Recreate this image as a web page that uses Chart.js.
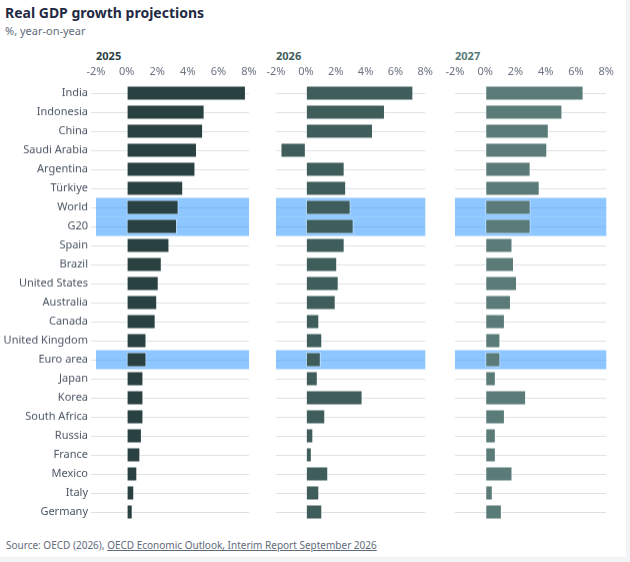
<!DOCTYPE html>
<html>
<head>
<meta charset="utf-8">
<script src="https://cdn.jsdelivr.net/npm/chart.js@4"></script>
<style>
  html, body { margin: 0; padding: 0; background: #f3f4f6; }
  body { width: 630px; height: 562px; overflow: hidden; font-family: "Noto Sans", sans-serif; }
  #card { position: absolute; left: 0; top: 0; width: 626px; height: 557px; background: #fff; }
  .title { position: absolute; left: 5px; top: 3px; font-size: 14px; font-weight: 700; color: #1f2a44; }
  .subtitle { position: absolute; left: 5px; top: 23px; font-size: 11px; color: #5f6b7a; }
  .head { position: absolute; top: 48px; font-size: 11px; font-weight: 700; }
  .panel { position: absolute; top: 50px; height: 470.5px; }
  .source { position: absolute; left: 6px; top: 538px; font-size: 10px; color: #5f6b7a; }
  .source span { text-decoration: underline; }
</style>
</head>
<body>
<div id="card">
  <div class="title">Real GDP growth projections</div>
  <div class="subtitle">%, year-on-year</div>
  <div class="head" style="left:96px;color:#2a4141">2025</div>
  <div class="head" style="left:276px;color:#3f5d5b">2026</div>
  <div class="head" style="left:455px;color:#5b7b78">2027</div>
  <div class="panel" style="left:0;width:262px"><canvas id="c2025"></canvas></div>
  <div class="panel" style="left:260px;width:178px"><canvas id="c2026"></canvas></div>
  <div class="panel" style="left:439px;width:180px"><canvas id="c2027"></canvas></div>
  <div class="source">Source: OECD (2026), <span>OECD Economic Outlook, Interim Report September 2026</span></div>
</div>
<script>
// values
const countries = ['India', 'Indonesia', 'China', 'Saudi Arabia', 'Argentina', 'Türkiye', 'World', 'G20',
  'Spain', 'Brazil', 'United States', 'Australia', 'Canada', 'United Kingdom', 'Euro area', 'Japan',
  'Korea', 'South Africa', 'Russia', 'France', 'Mexico', 'Italy', 'Germany'];
const growth2025 = [7.8, 5.1, 5.0, 4.6, 4.5, 3.7, 3.4, 3.3, 2.8, 2.3, 2.1, 2.0, 1.9, 1.3, 1.3, 1.1, 1.1, 1.1, 1.0, 0.9, 0.7, 0.5, 0.4];
const growth2026 = [7.2, 5.3, 4.5, -1.7, 2.6, 2.7, 3.0, 3.2, 2.6, 2.1, 2.2, 2.0, 0.9, 1.1, 1.0, 0.8, 3.8, 1.3, 0.5, 0.4, 1.5, 0.9, 1.1];
const growth2027 = [6.5, 5.1, 4.2, 4.1, 3.0, 3.6, 3.0, 3.0, 1.8, 1.9, 2.1, 1.7, 1.3, 1.0, 1.0, 0.7, 2.7, 1.3, 0.7, 0.7, 1.8, 0.5, 1.1];
const xMin = -2;
const xMax = 8;
const highlighted = ['World', 'G20', 'Euro area'];

const highlightBand = {
  id: 'highlightBand',
  beforeDatasetsDraw(chart) {
    const { ctx, chartArea, scales } = chart;
    const step = scales.y.getPixelForValue(1) - scales.y.getPixelForValue(0);
    ctx.save();
    ctx.fillStyle = 'rgba(30, 144, 255, 0.5)';
    highlighted.forEach(name => {
      const i = countries.indexOf(name);
      const y = scales.y.getPixelForValue(i);
      ctx.fillRect(chartArea.left, y - step / 2, chartArea.right - chartArea.left, step);
    });
    ctx.restore();
  }
};

function makePanel(id, values, color, axisWidth, padRight, showLabels) {
  new Chart(document.getElementById(id), {
    type: 'bar',
    data: {
      labels: countries,
      datasets: [{
        data: values,
        backgroundColor: color,
        borderColor: 'rgba(255,255,255,0.55)',
        borderWidth: 1,
        borderSkipped: false,
        barPercentage: 0.8,
        categoryPercentage: 1,
      }],
    },
    options: {
      indexAxis: 'y',
      responsive: true,
      maintainAspectRatio: false,
      animation: false,
      layout: { autoPadding: false, padding: { left: 0, right: padRight, top: 0, bottom: 0 } },
      plugins: { legend: { display: false }, tooltip: { enabled: false } },
      scales: {
        x: {
          position: 'top',
          min: xMin,
          max: xMax,
          grid: { display: false, drawTicks: false },
          border: { display: false },
          ticks: {
            stepSize: 2,
            padding: 5,
            color: '#6b7280',
            font: { family: 'Noto Sans', size: 11 },
            callback: v => v + '%',
          },
          afterFit: scale => { scale.height = 33.5; },
        },
        y: {
          grid: {
            offset: false,
            color: '#dde1e7',
            lineWidth: 1,
            drawTicks: showLabels,
            tickLength: 5,
          },
          border: { display: false },
          ticks: {
            display: showLabels,
            padding: 3,
            color: '#4b5563',
            font: { family: 'Noto Sans', size: 11 },
          },
          afterFit: scale => {
            scale.width = axisWidth;
            scale.paddingTop = 0;
            scale.paddingBottom = 0;
          },
        },
      },
    },
    plugins: [highlightBand],
  });
}

makePanel('c2025', growth2025, '#2a4141', 96, 13, true);
makePanel('c2026', growth2026, '#3f5d5b', 16, 10, false);
makePanel('c2027', growth2027, '#5b7b78', 16, 11, false);
</script>
</body>
</html>
